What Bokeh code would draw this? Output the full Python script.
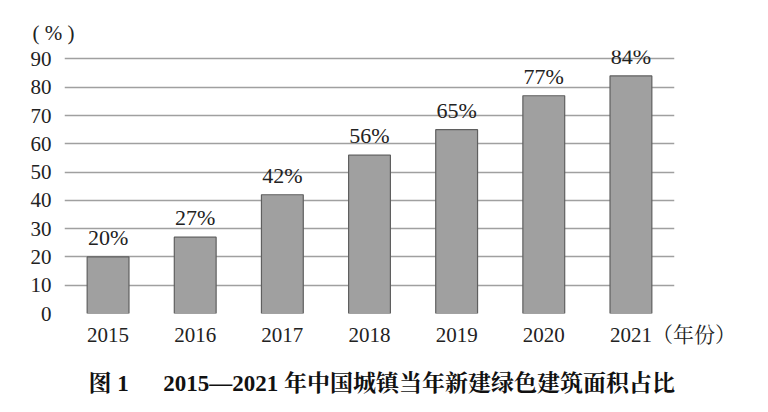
from bokeh.plotting import figure
from bokeh.models import ColumnDataSource, Range1d, LabelSet, Title, FixedTicker
from bokeh.embed import file_html
from bokeh.resources import INLINE

years = ["2015", "2016", "2017", "2018", "2019", "2020", "2021"]
share = [20, 27, 42, 56, 65, 77, 84]
labels = [f"{v}%" for v in share]
y_ticks = [0, 10, 20, 30, 40, 50, 60, 70, 80, 90]
y_unit = "( % )"
x_unit = "（年份）"
title_text = "图 1　\u20022015—2021 年中国城镇当年新建绿色建筑面积占比"

SERIF = "Liberation Serif, Noto Serif CJK SC, Noto Sans CJK SC"

idx = list(range(len(years)))
src = ColumnDataSource(dict(x=idx, y=share, lab=labels))

p = figure(frame_width=610, frame_height=263,
           x_range=Range1d(-0.5, len(years) - 0.5),
           y_range=Range1d(0, 93), output_backend="svg", toolbar_location=None,
           min_border_left=64, min_border_right=80, min_border_top=50, min_border_bottom=85)
p.outline_line_color = None
p.background_fill_color = "white"

p.vbar(x="x", top="y", width=0.48, source=src, fill_color="#a0a0a0",
       line_color="#5f5f5f", line_width=1.2)

p.add_layout(LabelSet(x="x", y="y", text="lab", source=src, text_align="center",
                      text_baseline="bottom", y_offset=7, text_font=SERIF,
                      text_font_size="22px", text_color="#222222"))

p.yaxis.ticker = FixedTicker(ticks=y_ticks)
p.xaxis.ticker = FixedTicker(ticks=idx)
tick_text = {i: y for i, y in zip(idx, years)}
tick_text[idx[-1]] = "　　　　" + years[-1] + x_unit
p.xaxis.major_label_overrides = tick_text

p.xgrid.grid_line_color = None
p.ygrid.grid_line_color = "#a0a0a0"
p.ygrid.grid_line_width = 1.5
for ax in (p.xaxis[0], p.yaxis[0]):
    ax.axis_line_color = None
    ax.major_tick_line_color = None
    ax.minor_tick_line_color = None
    ax.major_label_text_font = SERIF
    ax.major_label_text_font_size = "21px"
    ax.major_label_text_color = "#222222"
p.yaxis.major_label_standoff = 7
p.xaxis.major_label_standoff = 3

p.add_layout(Title(text=y_unit, align="left", offset=-32, standoff=12, text_font=SERIF,
                   text_font_size="21px", text_font_style="normal", text_color="#222222"),
             "above")

t = Title(text=title_text, align="left", text_font=SERIF, text_font_size="23px",
          text_font_style="bold", text_color="#111111", offset=24, standoff=39)
p.add_layout(t, "below")

open("out.html", "w").write(file_html(p, INLINE))
